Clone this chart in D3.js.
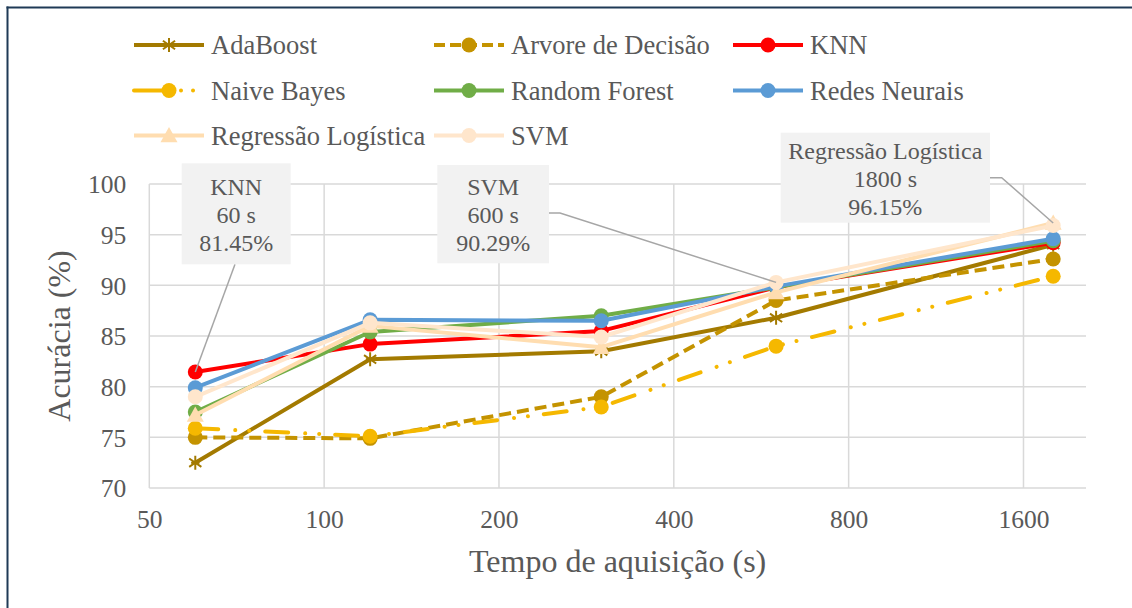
<!DOCTYPE html>
<html><head><meta charset="utf-8">
<script src="https://cdn.jsdelivr.net/npm/d3@7"></script>
<style>html,body{margin:0;padding:0;background:#fff;}svg{display:block;}svg text{font-family:'Liberation Serif','Times New Roman',serif;}</style>
</head><body>
<svg id="chart" width="1132" height="608"></svg>
<script>
// ---- data ----
const times = [60, 120, 300, 600, 1800];
const seriesNames = ["AdaBoost","Arvore de Decisão","KNN","Naive Bayes","Random Forest","Redes Neurais","Regressão Logística","SVM"];
const adaBoost = [72.5, 82.7, 83.5, 86.8, 94.0];
const arvore   = [75.0, 74.9, 79.0, 88.5, 92.6];
const knn      = [81.45, 84.2, 85.5, 89.8, 94.2];
const naiveBayes = [75.9, 75.1, 78.0, 84.0, 90.9];
const randomForest = [77.5, 85.4, 87.0, 89.8, 94.4];
const redesNeurais = [79.9, 86.6, 86.5, 89.9, 94.6];
const regLog   = [77.2, 86.0, 83.9, 89.3, 96.15];
const svm      = [79.0, 86.3, 84.9, 90.29, 95.9];
const xTicks = [50, 100, 200, 400, 800, 1600];
const yTicks = [70, 75, 80, 85, 90, 95, 100];
const annotations = [
  {series: "KNN", time: 60},
  {series: "SVM", time: 600},
  {series: "Regressão Logística", time: 1800}
];

// ---- styles ----
const values = [adaBoost, arvore, knn, naiveBayes, randomForest, redesNeurais, regLog, svm];
const styles = [
  {color:"#A37A00", dash:null, marker:"star"},
  {color:"#C49300", dash:"12,6", marker:"circle"},
  {color:"#FF0000", dash:null, marker:"circle"},
  {color:"#F5B800", dash:"23,17,0.01,14,0.01,16", cap:"round", marker:"circle"},
  {color:"#70AD47", dash:null, marker:"circle"},
  {color:"#5B9BD5", dash:null, marker:"circle"},
  {color:"#FFDDB0", dash:null, marker:"triangle"},
  {color:"#FFE6CC", dash:null, marker:"circle"}
];
const series = seriesNames.map((n,i)=>({name:n, values:values[i], ...styles[i]}));

const FONT = "'Liberation Serif','Times New Roman',serif";
const TXT = "#595959";
const svg = d3.select("#chart");

// frame
svg.append("line").attr("x1",7.5).attr("x2",7.5).attr("y1",6.5).attr("y2",608).attr("stroke","#1F3A56").attr("stroke-width",2);
svg.append("line").attr("x1",6.5).attr("x2",1132).attr("y1",7.5).attr("y2",7.5).attr("stroke","#1F3A56").attr("stroke-width",2);

const x = d3.scaleLog().base(2).domain([50, 2050]).range([149.3, 1086]);
const y = d3.scaleLinear().domain([70, 100]).range([488, 184]);

// grid
const grid = svg.append("g");
grid.selectAll(".hg").data(yTicks).join("line")
  .attr("x1", x.range()[0]).attr("x2", x.range()[1])
  .attr("y1", d=>y(d)).attr("y2", d=>y(d))
  .attr("stroke","#D9D9D9").attr("stroke-width",1.5);
grid.selectAll(".vg").data(xTicks).join("line")
  .attr("x1", d=>x(d)).attr("x2", d=>x(d))
  .attr("y1", y(70)).attr("y2", y(100))
  .attr("stroke","#D9D9D9").attr("stroke-width",1.5);

// axes via d3 axis (labels only)
const yAxis = svg.append("g").attr("transform",`translate(${x.range()[0]},0)`)
  .call(d3.axisLeft(y).tickValues(yTicks).tickSize(0).tickPadding(23));
const xAxis = svg.append("g").attr("transform",`translate(0,${y(70)})`)
  .call(d3.axisBottom(x).tickValues(xTicks).tickFormat(d3.format("d")).tickSize(0).tickPadding(22));
[yAxis, xAxis].forEach(a=>{
  a.attr("font-family", FONT);
  a.select(".domain").remove();
  a.selectAll("text").style("font-family",FONT).style("font-size","25.5px").attr("fill",TXT);
});
yAxis.selectAll("text").attr("dy","0.34em");
xAxis.selectAll("text").attr("dy","0.72em");

// axis titles
svg.append("text").attr("x",(x.range()[0]+x.range()[1])/2).attr("y",572)
  .attr("text-anchor","middle").style("font-family",FONT).style("font-size","32px").attr("fill",TXT)
  .text("Tempo de aquisição (s)");
svg.append("text").attr("transform",`translate(70,${(y(70)+y(100))/2}) rotate(-90)`)
  .attr("text-anchor","middle").style("font-family",FONT).style("font-size","32px").attr("fill",TXT)
  .text("Acurácia (%)");

// markers
function drawMarker(g, type, color, cx, cy){
  if(type==="circle"){
    g.append("circle").attr("cx",cx).attr("cy",cy).attr("r",7.5).attr("fill",color);
  } else if(type==="triangle"){
    const s=8.5;
    g.append("path").attr("d",`M${cx},${cy-s}L${cx+s},${cy+s*0.8}L${cx-s},${cy+s*0.8}Z`).attr("fill",color);
  } else if(type==="star"){
    const s=7;
    g.append("path").attr("d",`M${cx},${cy-s}V${cy+s}M${cx-s*0.87},${cy-s*0.6}L${cx+s*0.87},${cy+s*0.6}M${cx-s*0.87},${cy+s*0.6}L${cx+s*0.87},${cy-s*0.6}M${cx-s*0.6},${cy}H${cx+s*0.6}`)
      .attr("stroke",color).attr("stroke-width",2).attr("fill","none");
  }
}

// series
const line = d3.line().x(d=>x(d[0])).y(d=>y(d[1]));
const plot = svg.append("g");
series.forEach(s=>{
  const pts = times.map((t,i)=>[t, s.values[i]]);
  const g = plot.append("g");
  g.append("path").attr("d", line(pts)).attr("fill","none")
    .attr("stroke", s.color).attr("stroke-width",4)
    .attr("stroke-linecap", s.cap||"butt").attr("stroke-linejoin","round")
    .attr("stroke-dasharray", s.dash);
  pts.forEach(p=>drawMarker(g, s.marker, s.color, x(p[0]), y(p[1])));
});

// legend
const legCols = [134, 434, 733];
const legRows = [45, 90.5, 135.5];
series.forEach((s,i)=>{
  const cx = legCols[i%3], cy = legRows[Math.floor(i/3)];
  const g = svg.append("g");
  g.append("line").attr("x1",cx).attr("x2",cx+70).attr("y1",cy).attr("y2",cy)
    .attr("stroke",s.color).attr("stroke-width",4)
    .attr("stroke-linecap", s.cap||"butt")
    .attr("stroke-dasharray", s.dash ? (s.name==="Naive Bayes" ? "35,12,0.01,12,0.01,12" : "11,5") : null);
  drawMarker(g, s.marker, s.color, cx+35, cy);
  g.append("text").attr("x",cx+77).attr("y",cy+9).style("font-family",FONT).style("font-size","26.5px").attr("fill",TXT).text(s.name);
});

// annotations (box layout)
const boxLayout = [
  {x0:181.7, x1:290.7, y0:163.3, y1:264.3, leader:[[235,264.3]]},
  {x0:437.3, x1:549,   y0:165,   y1:263.3, leader:[[549,213],[560,213]]},
  {x0:780.7, x1:990,   y0:132.7, y1:222.7, leader:[[990,177.7],[1001.7,177.7]]}
];
annotations.forEach((a,i)=>{
  const si = seriesNames.indexOf(a.series);
  const v = series[si].values[times.indexOf(a.time)];
  const b = boxLayout[i];
  const px = x(a.time), py = y(v);
  const pts = b.leader.concat([[px, py]]);
  svg.append("path").attr("d", d3.line()(pts)).attr("fill","none").attr("stroke","#A6A6A6").attr("stroke-width",1.5);
  svg.append("rect").attr("x",b.x0).attr("y",b.y0).attr("width",b.x1-b.x0).attr("height",b.y1-b.y0).attr("fill","#F2F2F2");
  const lines = [a.series, a.time + " s", d3.format(".2f")(v) + "%"];
  const cy = (b.y0+b.y1)/2;
  lines.forEach((t,j)=>{
    svg.append("text").attr("x",(b.x0+b.x1)/2).attr("y",cy + 9 + (j-1)*27.8)
      .attr("text-anchor","middle").style("font-family",FONT).style("font-size","24px").attr("fill",TXT).text(t);
  });
});
</script>
</body></html>
